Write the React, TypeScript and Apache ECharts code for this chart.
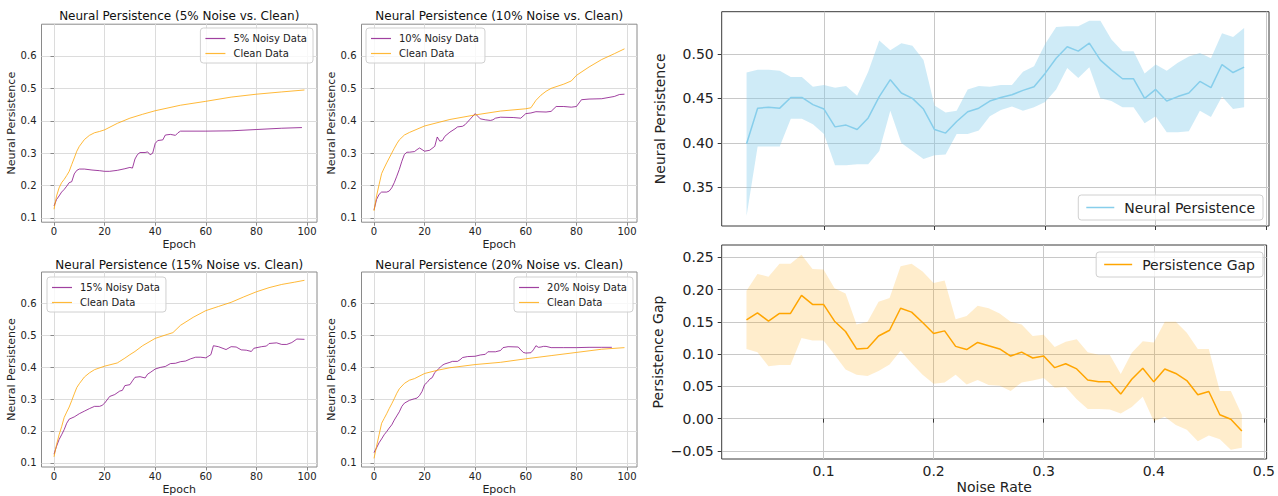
import React, { useEffect, useRef } from 'react';
import * as echarts from 'echarts';

const FONT = 'DejaVu Sans';

// ---------- Left panels: epochs / values ----------
const P1_NOISY_EPOCHS = [0, 1, 2, 3, 4, 5, 6, 7, 8, 9, 10, 12, 15, 18, 20, 22, 25, 28, 30, 31, 32, 33, 34, 36, 37, 38, 39, 40, 41, 43, 44, 46, 48, 49, 50, 60, 70, 80, 90, 98];
const P1_NOISY_VALUES = [0.137, 0.157, 0.168, 0.18, 0.188, 0.198, 0.209, 0.212, 0.236, 0.247, 0.251, 0.251, 0.248, 0.246, 0.244, 0.244, 0.247, 0.252, 0.256, 0.254, 0.282, 0.296, 0.302, 0.302, 0.304, 0.295, 0.3, 0.33, 0.339, 0.341, 0.356, 0.358, 0.355, 0.363, 0.368, 0.368, 0.369, 0.373, 0.377, 0.379];
const P1_CLEAN_EPOCHS = [0, 1, 2, 3, 4, 5, 6, 7, 8, 9, 10, 12, 14, 16, 18, 20, 25, 30, 35, 40, 50, 60, 70, 80, 90, 99];
const P1_CLEAN_VALUES = [0.127, 0.168, 0.193, 0.209, 0.219, 0.231, 0.244, 0.265, 0.285, 0.306, 0.321, 0.342, 0.355, 0.363, 0.367, 0.372, 0.392, 0.408, 0.42, 0.431, 0.448, 0.46, 0.473, 0.482, 0.489, 0.495];

const P2_NOISY_EPOCHS = [0, 1, 2, 3, 5, 6, 7, 8, 9, 10, 11, 12, 13, 14, 16, 17, 18, 19, 20, 22, 24, 25, 26, 27, 28, 30, 32, 33, 35, 36, 38, 40, 41, 42, 44, 46, 47, 48, 50, 55, 58, 60, 62, 64, 68, 70, 72, 75, 78, 80, 82, 85, 90, 95, 97, 99];
const P2_NOISY_VALUES = [0.125, 0.157, 0.173, 0.18, 0.18, 0.183, 0.193, 0.209, 0.229, 0.25, 0.275, 0.296, 0.303, 0.303, 0.305, 0.311, 0.316, 0.311, 0.306, 0.309, 0.321, 0.35, 0.337, 0.339, 0.352, 0.365, 0.375, 0.381, 0.383, 0.388, 0.405, 0.422, 0.414, 0.406, 0.403, 0.401, 0.403, 0.408, 0.411, 0.41, 0.408, 0.422, 0.424, 0.428, 0.427, 0.429, 0.444, 0.444, 0.442, 0.444, 0.465, 0.467, 0.468, 0.475, 0.481, 0.482];
const P2_CLEAN_EPOCHS = [0, 1, 2, 3, 4, 5, 6, 7, 8, 9, 10, 12, 14, 20, 30, 40, 50, 60, 62, 64, 66, 68, 70, 75, 78, 80, 85, 90, 95, 99];
const P2_CLEAN_VALUES = [0.122, 0.168, 0.203, 0.237, 0.254, 0.27, 0.285, 0.3, 0.315, 0.329, 0.341, 0.356, 0.364, 0.384, 0.404, 0.418, 0.43, 0.437, 0.44, 0.463, 0.479, 0.491, 0.5, 0.513, 0.523, 0.54, 0.566, 0.589, 0.607, 0.622];

const P3_NOISY_EPOCHS = [0, 1, 2, 3, 4, 5, 6, 8, 10, 12, 14, 16, 18, 19, 20, 22, 24, 26, 27, 28, 30, 31, 32, 34, 36, 37, 38, 40, 42, 44, 46, 48, 50, 52, 54, 56, 58, 60, 62, 63, 65, 68, 70, 72, 74, 76, 78, 79, 82, 84, 85, 88, 90, 92, 94, 96, 99];
const P3_NOISY_VALUES = [0.127, 0.152, 0.173, 0.188, 0.204, 0.224, 0.237, 0.244, 0.254, 0.262, 0.27, 0.277, 0.277, 0.28, 0.287, 0.308, 0.314, 0.325, 0.327, 0.342, 0.345, 0.357, 0.368, 0.37, 0.366, 0.378, 0.383, 0.394, 0.399, 0.402, 0.411, 0.412, 0.417, 0.419, 0.426, 0.431, 0.431, 0.429, 0.439, 0.467, 0.464, 0.455, 0.464, 0.463, 0.454, 0.453, 0.449, 0.459, 0.464, 0.466, 0.474, 0.476, 0.471, 0.471, 0.477, 0.488, 0.487];
const P3_CLEAN_EPOCHS = [0, 1, 2, 3, 4, 5, 6, 7, 8, 9, 10, 12, 14, 16, 20, 25, 26, 28, 30, 32, 35, 40, 45, 47, 50, 55, 60, 65, 70, 75, 80, 85, 90, 95, 99];
const P3_CLEAN_VALUES = [0.119, 0.157, 0.188, 0.213, 0.242, 0.259, 0.275, 0.295, 0.316, 0.336, 0.348, 0.369, 0.382, 0.392, 0.403, 0.413, 0.418, 0.428, 0.439, 0.449, 0.467, 0.49, 0.503, 0.508, 0.531, 0.556, 0.577, 0.59, 0.603, 0.62, 0.636, 0.649, 0.659, 0.666, 0.672];

const P4_NOISY_EPOCHS = [0, 1, 2, 3, 4, 5, 6, 7, 8, 9, 10, 11, 12, 14, 16, 17, 18, 19, 20, 21, 22, 23, 24, 26, 27, 28, 30, 31, 33, 34, 35, 37, 40, 42, 44, 45, 48, 50, 51, 53, 57, 58, 59, 60, 62, 63, 64, 65, 66, 67, 68, 70, 75, 80, 85, 90, 94];
const P4_NOISY_VALUES = [0.132, 0.147, 0.163, 0.175, 0.188, 0.198, 0.209, 0.219, 0.234, 0.247, 0.26, 0.277, 0.287, 0.296, 0.301, 0.303, 0.311, 0.324, 0.345, 0.352, 0.362, 0.367, 0.383, 0.398, 0.406, 0.41, 0.415, 0.418, 0.418, 0.423, 0.43, 0.433, 0.434, 0.438, 0.44, 0.448, 0.448, 0.452, 0.461, 0.464, 0.463, 0.454, 0.446, 0.444, 0.445, 0.454, 0.467, 0.462, 0.463, 0.465, 0.465, 0.461, 0.461, 0.461, 0.462, 0.462, 0.462];
const P4_CLEAN_EPOCHS = [0, 1, 2, 3, 4, 5, 6, 7, 8, 9, 10, 12, 14, 16, 20, 25, 30, 40, 50, 60, 70, 80, 90, 99];
const P4_CLEAN_VALUES = [0.114, 0.152, 0.188, 0.224, 0.239, 0.254, 0.27, 0.285, 0.301, 0.318, 0.332, 0.349, 0.359, 0.364, 0.38, 0.39, 0.398, 0.408, 0.415, 0.426, 0.436, 0.446, 0.456, 0.461];

const LEFT_TITLES = [
  'Neural Persistence (5% Noise vs. Clean)',
  'Neural Persistence (10% Noise vs. Clean)',
  'Neural Persistence (15% Noise vs. Clean)',
  'Neural Persistence (20% Noise vs. Clean)',
];
const NOISY_LABELS = ['5% Noisy Data', '10% Noisy Data', '15% Noisy Data', '20% Noisy Data'];
const EPOCH_TICKS = [0, 20, 40, 60, 80, 100];
const LEFT_Y_TICKS = [0.1, 0.2, 0.3, 0.4, 0.5, 0.6];

// ---------- Right panels ----------
const NOISE_RATES = [0.03, 0.04, 0.05, 0.06, 0.07, 0.08, 0.09, 0.10, 0.11, 0.12, 0.13, 0.14, 0.15, 0.16, 0.17, 0.18, 0.19, 0.20, 0.21, 0.22, 0.23, 0.24, 0.25, 0.26, 0.27, 0.28, 0.29, 0.30, 0.31, 0.32, 0.33, 0.34, 0.35, 0.36, 0.37, 0.38, 0.39, 0.40, 0.41, 0.42, 0.43, 0.44, 0.45, 0.46, 0.47, 0.48];
const NP_MEAN = [0.399, 0.439, 0.440, 0.439, 0.451, 0.451, 0.443, 0.438, 0.418, 0.420, 0.415, 0.428, 0.452, 0.471, 0.456, 0.450, 0.438, 0.415, 0.411, 0.424, 0.435, 0.439, 0.447, 0.451, 0.454, 0.459, 0.463, 0.478, 0.495, 0.508, 0.503, 0.512, 0.493, 0.482, 0.472, 0.472, 0.450, 0.460, 0.447, 0.452, 0.456, 0.469, 0.462, 0.488, 0.479, 0.485];
const NP_UPPER = [0.479, 0.482, 0.482, 0.481, 0.474, 0.474, 0.463, 0.465, 0.462, 0.464, 0.453, 0.480, 0.515, 0.504, 0.512, 0.509, 0.493, 0.442, 0.434, 0.436, 0.460, 0.464, 0.463, 0.465, 0.465, 0.480, 0.486, 0.511, 0.530, 0.531, 0.531, 0.537, 0.537, 0.516, 0.503, 0.503, 0.478, 0.488, 0.481, 0.490, 0.497, 0.501, 0.495, 0.523, 0.519, 0.529];
const NP_LOWER = [0.318, 0.396, 0.396, 0.396, 0.427, 0.427, 0.421, 0.410, 0.375, 0.375, 0.376, 0.376, 0.391, 0.436, 0.400, 0.391, 0.382, 0.386, 0.387, 0.410, 0.410, 0.414, 0.430, 0.437, 0.441, 0.436, 0.440, 0.446, 0.460, 0.484, 0.473, 0.485, 0.450, 0.447, 0.440, 0.440, 0.422, 0.430, 0.412, 0.412, 0.413, 0.436, 0.429, 0.452, 0.438, 0.440];
const GAP_MEAN = [0.153, 0.164, 0.151, 0.163, 0.163, 0.191, 0.177, 0.177, 0.151, 0.135, 0.108, 0.109, 0.128, 0.137, 0.171, 0.165, 0.149, 0.132, 0.136, 0.112, 0.107, 0.118, 0.113, 0.108, 0.097, 0.103, 0.094, 0.097, 0.079, 0.085, 0.077, 0.060, 0.057, 0.057, 0.038, 0.061, 0.078, 0.057, 0.077, 0.070, 0.059, 0.037, 0.042, 0.006, -0.001, -0.019];
const GAP_UPPER = [0.198, 0.224, 0.220, 0.240, 0.240, 0.254, 0.232, 0.231, 0.202, 0.194, 0.146, 0.150, 0.181, 0.187, 0.236, 0.240, 0.228, 0.210, 0.214, 0.154, 0.159, 0.175, 0.171, 0.163, 0.150, 0.146, 0.128, 0.130, 0.111, 0.119, 0.123, 0.103, 0.099, 0.099, 0.069, 0.102, 0.120, 0.118, 0.150, 0.150, 0.133, 0.108, 0.108, 0.043, 0.043, 0.006];
const GAP_LOWER = [0.108, 0.103, 0.081, 0.083, 0.083, 0.125, 0.121, 0.121, 0.099, 0.076, 0.068, 0.066, 0.074, 0.084, 0.105, 0.086, 0.068, 0.054, 0.056, 0.068, 0.053, 0.060, 0.052, 0.051, 0.043, 0.056, 0.059, 0.063, 0.048, 0.049, 0.030, 0.015, 0.015, 0.014, 0.008, 0.018, 0.034, -0.004, 0.003, -0.010, -0.017, -0.035, -0.026, -0.032, -0.048, -0.045];
const RATE_TICKS = [0.1, 0.2, 0.3, 0.4, 0.5];
const NP_TICKS = [0.35, 0.40, 0.45, 0.50];
const GAP_TICKS = [-0.05, 0.0, 0.05, 0.10, 0.15, 0.20, 0.25];

const PURPLE = 'rgba(128,0,128,0.75)';
const ORANGE_L = 'rgba(255,165,0,0.78)';
const SKY = '#87CEEB';
const SKY_FILL = 'rgba(135,206,235,0.4)';
const ORANGE = '#FFA500';
const ORANGE_FILL = 'rgba(255,165,0,0.2)';

const pairs = (xs: number[], ys: number[]) => xs.map((x, i) => [x, ys[i]]);
const fmt = (d: number) => (v: number) => (v < 0 ? '\u2212' + Math.abs(v).toFixed(d) : v.toFixed(d));

export default function App() {
  const ref = useRef<HTMLDivElement>(null);
  useEffect(() => {
    const chart = echarts.init(ref.current!, null, { renderer: 'svg' });

    const leftGrids = [
      { left: 41.5, top: 24.2 },
      { left: 361.5, top: 24.2 },
      { left: 41.5, top: 272 },
      { left: 361.5, top: 272 },
    ];
    const LW = 275.5;
    const LH = 198;
    const noisy = [
      pairs(P1_NOISY_EPOCHS, P1_NOISY_VALUES),
      pairs(P2_NOISY_EPOCHS, P2_NOISY_VALUES),
      pairs(P3_NOISY_EPOCHS, P3_NOISY_VALUES),
      pairs(P4_NOISY_EPOCHS, P4_NOISY_VALUES),
    ];
    const clean = [
      pairs(P1_CLEAN_EPOCHS, P1_CLEAN_VALUES),
      pairs(P2_CLEAN_EPOCHS, P2_CLEAN_VALUES),
      pairs(P3_CLEAN_EPOCHS, P3_CLEAN_VALUES),
      pairs(P4_CLEAN_EPOCHS, P4_CLEAN_VALUES),
    ];

    const grid: any[] = leftGrids.map((g) => ({
      left: g.left, top: g.top, width: LW, height: LH,
      show: true, borderColor: '#8a8a8a', borderWidth: 1, backgroundColor: 'transparent',
    }));
    grid.push({ left: 721.7, top: 11.7, width: 547.3, height: 214.3, show: true, borderColor: '#3a3a3a', borderWidth: 1 });
    grid.push({ left: 721.7, top: 245, width: 547.3, height: 214, show: true, borderColor: '#3a3a3a', borderWidth: 1 });

    const xAxis: any[] = leftGrids.map((_, i) => ({
      type: 'value', gridIndex: i, min: -4.95, max: 103.95,
      axisLine: { show: false },
      axisTick: { show: true, customValues: EPOCH_TICKS, length: 3.5, lineStyle: { color: '#8a8a8a' } },
      axisLabel: { customValues: EPOCH_TICKS, fontSize: 10, color: '#222', margin: 4, fontFamily: FONT },
      splitLine: { show: true, lineStyle: { color: '#dcdcdc', width: 1 } },
      name: 'Epoch', nameLocation: 'middle', nameGap: 17,
      nameTextStyle: { fontSize: 11, color: '#222', fontFamily: FONT },
    }));
    const yAxis: any[] = leftGrids.map((_, i) => ({
      type: 'value', gridIndex: i, min: 0.087, max: 0.698,
      axisLine: { show: false },
      axisTick: { show: true, customValues: LEFT_Y_TICKS, length: 3.5, lineStyle: { color: '#8a8a8a' } },
      axisLabel: { customValues: LEFT_Y_TICKS, fontSize: 10, color: '#222', margin: 5, fontFamily: FONT, formatter: fmt(1) },
      splitLine: { show: true, lineStyle: { color: '#dcdcdc', width: 1 } },
      name: 'Neural Persistence', nameLocation: 'middle', nameGap: 21, nameRotate: 90,
      nameTextStyle: { fontSize: 11, color: '#222', fontFamily: FONT },
    }));

    const rightX = (gi: number, showLabel: boolean, name?: string) => ({
      type: 'value', gridIndex: gi, min: 0.0075, max: 0.5025,
      axisLine: { show: false },
      axisTick: { show: true, customValues: RATE_TICKS, length: 4, lineStyle: { color: '#3a3a3a' } },
      axisLabel: { show: showLabel, customValues: RATE_TICKS, fontSize: 14, color: '#222', margin: 5, fontFamily: FONT, formatter: fmt(1) },
      splitLine: { show: true, lineStyle: { color: '#c8c8c8', width: 1 } },
      name: name || '', nameLocation: 'middle', nameGap: 21,
      nameTextStyle: { fontSize: 14, color: '#222', fontFamily: FONT },
    });
    xAxis.push(rightX(4, false));
    xAxis.push(rightX(5, true, 'Noise Rate'));
    yAxis.push({
      type: 'value', gridIndex: 4, min: 0.3067, max: 0.5473,
      axisLine: { show: false },
      axisTick: { show: true, customValues: NP_TICKS, length: 4, lineStyle: { color: '#3a3a3a' } },
      axisLabel: { customValues: NP_TICKS, fontSize: 14, color: '#222', margin: 8, fontFamily: FONT, formatter: fmt(2) },
      splitLine: { show: true, lineStyle: { color: '#c8c8c8', width: 1 } },
      name: 'Neural Persistence', nameLocation: 'middle', nameGap: 55, nameRotate: 90,
      nameTextStyle: { fontSize: 14, color: '#222', fontFamily: FONT },
    });
    yAxis.push({
      type: 'value', gridIndex: 5, min: -0.0625, max: 0.269,
      axisLine: { show: false },
      axisTick: { show: true, customValues: GAP_TICKS, length: 4, lineStyle: { color: '#3a3a3a' } },
      axisLabel: { customValues: GAP_TICKS, fontSize: 14, color: '#222', margin: 8, fontFamily: FONT, formatter: fmt(2) },
      splitLine: { show: true, lineStyle: { color: '#c8c8c8', width: 1 } },
      name: 'Persistence Gap', nameLocation: 'middle', nameGap: 57, nameRotate: 90,
      nameTextStyle: { fontSize: 14, color: '#222', fontFamily: FONT },
    });

    const series: any[] = [];
    leftGrids.forEach((_, i) => {
      series.push({
        type: 'line', name: NOISY_LABELS[i], xAxisIndex: i, yAxisIndex: i, data: noisy[i],
        symbol: 'none', lineStyle: { color: PURPLE, width: 1 }, itemStyle: { color: PURPLE }, z: 3,
      });
      series.push({
        type: 'line', name: 'Clean Data', xAxisIndex: i, yAxisIndex: i, data: clean[i],
        symbol: 'none', lineStyle: { color: ORANGE_L, width: 1 }, itemStyle: { color: ORANGE_L }, z: 3,
      });
    });

    const band = (name: string, gi: number, lo: number[], hi: number[], color: string) => ({
      type: 'custom', name, xAxisIndex: gi, yAxisIndex: gi, silent: true, clip: true, z: 1,
      data: NOISE_RATES.map((r, i) => [r, lo[i], hi[i]]),
      encode: { x: 0, y: [1, 2] },
      renderItem: (params: any, api: any) => {
        if (params.dataIndex !== 0) return null;
        const top = NOISE_RATES.map((r, i) => api.coord([r, hi[i]]));
        const bot = NOISE_RATES.map((r, i) => api.coord([r, lo[i]])).reverse();
        return { type: 'polygon', shape: { points: top.concat(bot) }, style: { fill: color } };
      },
    });
    series.push(band('np-band', 4, NP_LOWER, NP_UPPER, SKY_FILL));
    series.push({
      type: 'line', name: 'Neural Persistence', xAxisIndex: 4, yAxisIndex: 4, data: pairs(NOISE_RATES, NP_MEAN),
      symbol: 'none', lineStyle: { color: SKY, width: 1.5 }, itemStyle: { color: SKY }, z: 3,
    });
    series.push(band('gap-band', 5, GAP_LOWER, GAP_UPPER, ORANGE_FILL));
    series.push({
      type: 'line', name: 'Persistence Gap', xAxisIndex: 5, yAxisIndex: 5, data: pairs(NOISE_RATES, GAP_MEAN),
      symbol: 'none', lineStyle: { color: ORANGE, width: 1.5 }, itemStyle: { color: ORANGE }, z: 3,
    });

    const legBase = {
      orient: 'vertical', icon: 'rect', itemWidth: 20, itemHeight: 1.2, itemGap: 4,
      backgroundColor: 'rgba(255,255,255,0.8)', borderColor: '#d0d0d0', borderWidth: 1, borderRadius: 3,
      padding: [5, 6, 4, 5], selectedMode: false,
      textStyle: { fontSize: 10, color: '#222', fontFamily: FONT, padding: [0, 0, 0, 3], lineHeight: 11 },
    };
    const legend: any[] = [
      { ...legBase, data: [NOISY_LABELS[0], 'Clean Data'], right: 1278 - 313, top: 28 },
      { ...legBase, data: [NOISY_LABELS[1], 'Clean Data'], left: 366, top: 28 },
      { ...legBase, data: [NOISY_LABELS[2], 'Clean Data'], left: 47, top: 277 },
      { ...legBase, data: [NOISY_LABELS[3], 'Clean Data'], right: 1278 - 633, top: 277 },
      {
        ...legBase, data: ['Neural Persistence'], right: 15, top: 195, itemWidth: 28, itemHeight: 1.5,
        padding: [5, 8, 5, 8], textStyle: { fontSize: 14, color: '#222', fontFamily: FONT, padding: [0, 0, 0, 5], lineHeight: 15 },
      },
      {
        ...legBase, data: ['Persistence Gap'], right: 15, top: 252, itemWidth: 28, itemHeight: 1.5,
        padding: [5, 8, 5, 8], textStyle: { fontSize: 14, color: '#222', fontFamily: FONT, padding: [0, 0, 0, 5], lineHeight: 15 },
      },
    ];

    const graphic: any[] = leftGrids.map((g, i) => ({
      type: 'text', x: g.left + LW / 2, y: i < 2 ? 16 : 265,
      style: { text: LEFT_TITLES[i], font: `12px ${FONT}`, fill: '#111', textAlign: 'center', textVerticalAlign: 'middle' },
    }));

    chart.setOption({
      animation: false,
      backgroundColor: '#ffffff',
      textStyle: { fontFamily: FONT },
      grid, xAxis, yAxis, series, legend, graphic,
    });
    return () => chart.dispose();
  }, []);
  return <div ref={ref} style={{ position: 'absolute', left: 0, top: 0, width: 1278, height: 496 }} />;
}
